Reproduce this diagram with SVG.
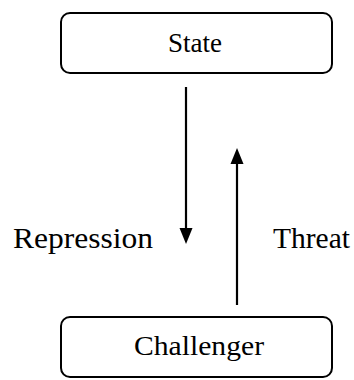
<svg xmlns="http://www.w3.org/2000/svg" width="354" height="380" viewBox="0 0 354 380">
<style>
.box{fill:#fff;stroke:#000;stroke-width:2}
.t{font-family:"Liberation Serif","Times New Roman",serif;fill:#000}
.line{stroke:#000;stroke-width:2.2;fill:none}
</style>
<rect width="354" height="380" fill="#fff"/>
<g id="state">
<rect class="box" x="61" y="13" width="271" height="60" rx="9"/>
<text class="t" x="168" y="52" font-size="28" textLength="54" lengthAdjust="spacingAndGlyphs">State</text>
</g>
<g id="challenger">
<rect class="box" x="61" y="317" width="271" height="60" rx="9"/>
<text class="t" x="134" y="355" font-size="28" textLength="130" lengthAdjust="spacingAndGlyphs">Challenger</text>
</g>
<g id="connectors">
<line class="line" x1="186" y1="87" x2="186" y2="230"/>
<path d="M179.5,228 L192.5,228 L186,244 Z" fill="#000"/>
<line class="line" x1="237" y1="305" x2="237" y2="162"/>
<path d="M230.5,164 L243.5,164 L237,148 Z" fill="#000"/>
<text class="t" x="13" y="248" font-size="30" textLength="140" lengthAdjust="spacingAndGlyphs">Repression</text>
<text class="t" x="273" y="248" font-size="30" textLength="77" lengthAdjust="spacingAndGlyphs">Threat</text>
</g>
</svg>
